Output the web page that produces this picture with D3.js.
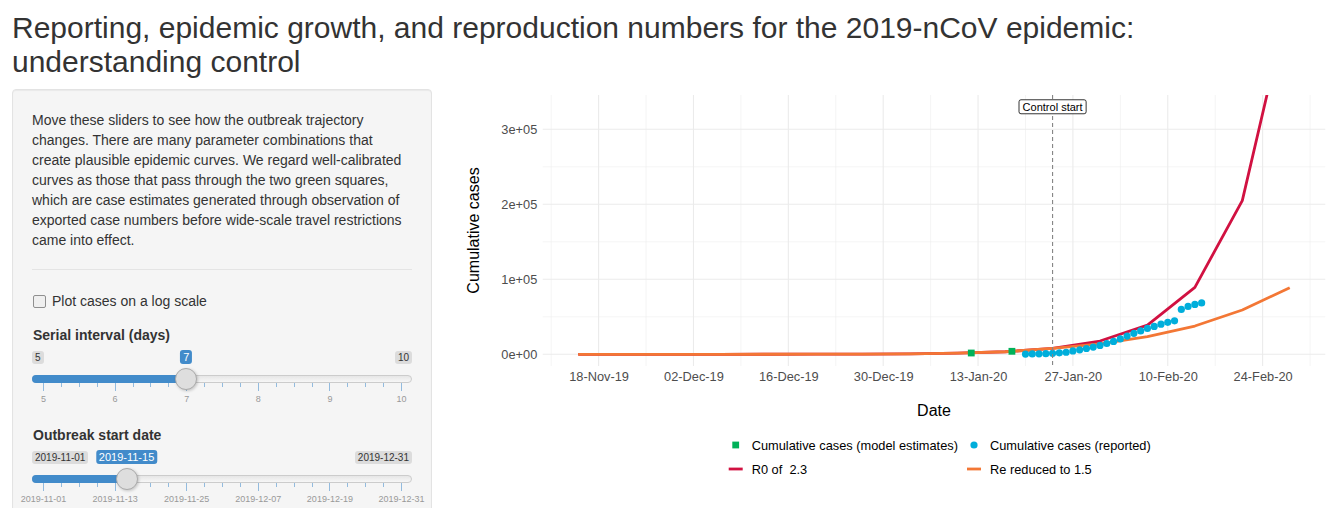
<!DOCTYPE html>
<html>
<head>
<meta charset="utf-8">
<title>2019-nCoV epidemic growth</title>
<script src="https://cdn.jsdelivr.net/npm/d3@7"></script>
<style>
  body { margin: 0; width: 1334px; height: 508px; overflow: hidden; position: relative; background: #fff;
         font-family: "Liberation Sans", Arial, Helvetica, sans-serif; color: #333; }
  h2 { position: absolute; left: 12px; top: 11px; margin: 0; font-size: 30px; font-weight: normal;
       line-height: 34px; white-space: nowrap; color: #333; }
  .well { position: absolute; left: 12px; top: 89px; width: 420px; height: 460px; box-sizing: border-box;
          background: #f5f5f5; border: 1px solid #e3e3e3; border-radius: 4px;
          box-shadow: inset 0 1px 1px rgba(0,0,0,.05); }
  .intro { position: absolute; left: 32px; top: 109.5px; font-size: 14px; line-height: 20px; white-space: nowrap; }
  .rule { position: absolute; left: 32px; top: 269px; width: 380px; border-top: 1px solid #e4e4e4; }
  .check { position: absolute; left: 32.5px; top: 294.5px; width: 11px; height: 11px; border: 1px solid #8f8f8f;
           border-radius: 2px; background: #efefef; }
  .check-label { position: absolute; left: 52px; top: 290.5px; font-size: 14px; line-height: 20px; white-space: nowrap; }
  .ctl-label { position: absolute; left: 33px; font-size: 14px; font-weight: bold; line-height: 20px; white-space: nowrap; }
  .slider { position: absolute; left: 32px; width: 380px; height: 60px; }
  .slider div { position: absolute; box-sizing: border-box; }
  .irs-min, .irs-max { top: 0.5px; font-size: 10px; line-height: 11px; padding: 1px 3px; border-radius: 3px;
                       background: rgba(0,0,0,.1); color: #333; white-space: nowrap; }
  .irs-single { top: 0; font-size: 11px; line-height: 12px; padding: 1px 3px; border-radius: 3px;
                background: #428bca; color: #fff; white-space: nowrap; transform: translateX(-50%); }
  .irs-line { top: 25px; left: 0; width: 380px; height: 8px; border: 1px solid #ccc; border-radius: 8px;
              background: linear-gradient(#dedede -50%, #fff 150%); }
  .irs-bar { top: 25px; left: 0; height: 8px; background: #428bca; border-radius: 8px 0 0 8px; }
  .irs-handle { top: 17.7px; width: 22px; height: 22px; border: 1px solid #ababab; border-radius: 22px;
                background: #dedede; box-shadow: 1px 1px 3px rgba(0,0,0,.2); }
  .irs-pol { top: 33px; width: 1px; background: #428bca; opacity: .55; }
  .irs-grid-text { top: 44px; font-size: 9px; line-height: 10px; color: #999; white-space: nowrap; transform: translateX(-50%); }
  #chart { position: absolute; left: 440px; top: 80px; }
</style>
</head>
<body>
<h2>Reporting, epidemic growth, and reproduction numbers for the 2019-nCoV epidemic:<br>understanding control</h2>
<div class="well"></div>
<div class="intro">Move these sliders to see how the outbreak trajectory<br>changes. There are many parameter combinations that<br>create plausible epidemic curves. We regard well-calibrated<br>curves as those that pass through the two green squares,<br>which are case estimates generated through observation of<br>exported case numbers before wide-scale travel restrictions<br>came into effect.</div>
<div class="rule"></div>
<div class="check"></div>
<div class="check-label">Plot cases on a log scale</div>
<div class="ctl-label" style="top:325px">Serial interval (days)</div>
<div class="slider" id="serial" style="top:350px"></div>
<div class="ctl-label" style="top:424.5px">Outbreak start date</div>
<div class="slider" id="start" style="top:450px"></div>
<svg id="chart" width="894" height="428"></svg>
<script>
// ---- data ----
const weekDates = ["2019-11-15", "2019-11-22", "2019-11-29", "2019-12-06", "2019-12-13", "2019-12-20",
                   "2019-12-27", "2020-01-03", "2020-01-10", "2020-01-17", "2020-01-24", "2020-01-31",
                   "2020-02-07", "2020-02-14", "2020-02-21", "2020-02-28"];
const r0Cases = [2, 5, 11, 25, 56, 128, 290, 660, 1500, 3400, 7800, 17700, 38900, 89300, 204800, 476000];
const reCases = [2, 5, 11, 25, 56, 128, 290, 660, 1500, 3400, 7800, 14000, 23500, 37700, 59000, 88800];

const reportedDates = ["2020-01-20", "2020-01-21", "2020-01-22", "2020-01-23", "2020-01-24", "2020-01-25",
                       "2020-01-26", "2020-01-27", "2020-01-28", "2020-01-29", "2020-01-30", "2020-01-31",
                       "2020-02-01", "2020-02-02", "2020-02-03", "2020-02-04", "2020-02-05", "2020-02-06",
                       "2020-02-07", "2020-02-08", "2020-02-09", "2020-02-10", "2020-02-11", "2020-02-12",
                       "2020-02-13", "2020-02-14", "2020-02-15"];
const reportedCases = [291, 440, 571, 830, 1287, 1975, 2744, 4515, 5974, 7711, 9692, 11791, 14380, 17205,
                       20438, 24324, 28018, 31161, 34546, 37198, 40171, 42638, 44653, 59804, 63851, 66492, 68500];

const estimateDates = ["2020-01-12", "2020-01-18"];
const estimateCases = [1723, 4000];

const controlStart = "2020-01-24";
const controlLabel = "Control start";
const controlLabelY = 330000;

const xBreaks = ["2019-11-18", "2019-12-02", "2019-12-16", "2019-12-30", "2020-01-13", "2020-01-27",
                 "2020-02-10", "2020-02-24"];
const yBreaks = [0, 100000, 200000, 300000];
const yLabels = ["0e+00", "1e+05", "2e+05", "3e+05"];
const yMinorBreaks = [50000, 150000, 250000];
const yLimits = [-15600, 345700];

const legendLabels = ["Cumulative cases (model estimates)", "Cumulative cases (reported)", "R0 of  2.3", "Re reduced to 1.5"];

const serialTicks = [5, 6, 7, 8, 9, 10];
const serialValue = 7;
const startTicks = ["2019-11-01", "2019-11-13", "2019-11-25", "2019-12-07", "2019-12-19", "2019-12-31"];
const startValue = "2019-11-15";

// ---- colours ----
const colR0 = "#d11141", colRe = "#f37735", colEst = "#00b159", colRep = "#00aedb";

const parseDate = d3.utcParse("%Y-%m-%d");
const fmtDate = d3.utcFormat("%Y-%m-%d");

// ---- sliders (sidebar) ----
function makeSlider(id, scale, ticks, value, fmt) {
    const box = d3.select(id);
    const W = 380, hw = 11;
    const pos = v => hw + (scale(v)) * (W - 2 * hw);   // scale returns 0..1

    box.append("div").attr("class", "irs-line");
    box.append("div").attr("class", "irs-bar").style("width", pos(value) + "px");

    // grid: major ticks with 3 small ones in between
    ticks.forEach((t, i) => {
        box.append("div").attr("class", "irs-pol")
            .style("left", pos(t) + "px").style("height", "8px");
        box.append("div").attr("class", "irs-grid-text")
            .style("left", (pos(t) + 0.5) + "px").text(fmt(t));
        if (i < ticks.length - 1) {
            const a = pos(t), b = pos(ticks[i + 1]);
            [1, 2, 3].forEach(k => {
                box.append("div").attr("class", "irs-pol")
                    .style("left", (a + (b - a) * k / 4) + "px").style("height", "4px");
            });
        }
    });

    box.append("div").attr("class", "irs-min").style("left", "0px").text(fmt(ticks[0]));
    box.append("div").attr("class", "irs-max").style("right", "0px").text(fmt(ticks[ticks.length - 1]));
    box.append("div").attr("class", "irs-handle").style("left", (pos(value) - hw) + "px");
    box.append("div").attr("class", "irs-single").style("left", pos(value) + "px").text(fmt(value));
}

const serialScale = d3.scaleLinear().domain([serialTicks[0], serialTicks[serialTicks.length - 1]]).range([0, 1]);
makeSlider("#serial", serialScale, serialTicks, serialValue, d => String(d));

const startTickDates = startTicks.map(parseDate);
const startScale = d3.scaleUtc().domain([startTickDates[0], startTickDates[startTickDates.length - 1]]).range([0, 1]);
makeSlider("#start", startScale, startTickDates, parseDate(startValue), fmtDate);

// ---- chart ----
const svg = d3.select("#chart");
const panel = { left: 102.7, right: 885.3, top: 15, bottom: 286 };

const firstDay = parseDate(weekDates[0]);
const lastDay = parseDate(weekDates[weekDates.length - 1]);
const pad = (lastDay - firstDay) * 0.05;   // ggplot default expansion
const x = d3.scaleUtc()
    .domain([new Date(+firstDay - pad), new Date(+lastDay + pad)])
    .range([panel.left, panel.right]);
const y = d3.scaleLinear().domain(yLimits).range([panel.bottom, panel.top]);

svg.append("defs").append("clipPath").attr("id", "clip")
    .append("rect")
    .attr("x", panel.left).attr("y", panel.top)
    .attr("width", panel.right - panel.left).attr("height", panel.bottom - panel.top);

// grid lines
const xBreakDates = xBreaks.map(parseDate);
const xMinor = xBreakDates.map(d => d3.utcDay.offset(d, -7))
    .concat([d3.utcDay.offset(xBreakDates[xBreakDates.length - 1], 7)])
    .filter(d => d >= x.domain()[0] && d <= x.domain()[1]);

const grid = svg.append("g");
grid.selectAll(".xminor").data(xMinor).join("line")
    .attr("x1", d => x(d)).attr("x2", d => x(d))
    .attr("y1", panel.top).attr("y2", panel.bottom)
    .attr("stroke", "#ebebeb").attr("stroke-width", 0.55);
grid.selectAll(".yminor").data(yMinorBreaks).join("line")
    .attr("x1", panel.left).attr("x2", panel.right)
    .attr("y1", d => y(d)).attr("y2", d => y(d))
    .attr("stroke", "#ebebeb").attr("stroke-width", 0.55);
grid.selectAll(".xmajor").data(xBreakDates).join("line")
    .attr("x1", d => x(d)).attr("x2", d => x(d))
    .attr("y1", panel.top).attr("y2", panel.bottom)
    .attr("stroke", "#ebebeb").attr("stroke-width", 1.1);
grid.selectAll(".ymajor").data(yBreaks).join("line")
    .attr("x1", panel.left).attr("x2", panel.right)
    .attr("y1", d => y(d)).attr("y2", d => y(d))
    .attr("stroke", "#ebebeb").attr("stroke-width", 1.1);

// axes (labels only, like theme_minimal)
const xAxis = svg.append("g")
    .attr("transform", `translate(0,${panel.bottom})`)
    .call(d3.axisBottom(x).tickValues(xBreakDates).tickFormat(d3.utcFormat("%d-%b-%y")).tickSize(0).tickPadding(5.9));
const yAxis = svg.append("g")
    .attr("transform", `translate(${panel.left},0)`)
    .call(d3.axisLeft(y).tickValues(yBreaks).tickFormat((d, i) => yLabels[i]).tickSize(0).tickPadding(5.4));
[xAxis, yAxis].forEach(g => {
    g.select(".domain").remove();
    g.selectAll("text")
        .attr("fill", "#4d4d4d")
        .style("font-family", '"Liberation Sans", Arial, sans-serif')
        .style("font-size", "12.8px");
});
yAxis.selectAll("text").attr("dy", "0.36em");

svg.append("text")
    .attr("x", (panel.left + panel.right) / 2).attr("y", 336)
    .attr("text-anchor", "middle")
    .style("font-family", '"Liberation Sans", Arial, sans-serif').style("font-size", "16px")
    .attr("fill", "#000").text("Date");
svg.append("text")
    .attr("transform", `translate(39.3,${(panel.top + panel.bottom) / 2}) rotate(-90)`)
    .attr("text-anchor", "middle")
    .style("font-family", '"Liberation Sans", Arial, sans-serif').style("font-size", "16px")
    .attr("fill", "#000").text("Cumulative cases");

// model lines
const plot = svg.append("g").attr("clip-path", "url(#clip)");
const line = d3.line().x(d => x(d[0])).y(d => y(d[1]));
const weekParsed = weekDates.map(parseDate);

plot.append("path")
    .datum(weekParsed.map((d, i) => [d, r0Cases[i]]))
    .attr("d", line)
    .attr("fill", "none").attr("stroke", colR0).attr("stroke-width", 2.8)
    .attr("stroke-linejoin", "round");
plot.append("path")
    .datum(weekParsed.map((d, i) => [d, reCases[i]]))
    .attr("d", line)
    .attr("fill", "none").attr("stroke", colRe).attr("stroke-width", 2.8)
    .attr("stroke-linejoin", "round");

// control start
const xc = x(parseDate(controlStart));
svg.append("line")
    .attr("x1", xc).attr("x2", xc).attr("y1", panel.top).attr("y2", panel.bottom)
    .attr("stroke", "#858585").attr("stroke-width", 1.1).attr("stroke-dasharray", "4,3");

// points
plot.selectAll(".est").data(estimateDates).join("rect")
    .attr("x", d => x(parseDate(d)) - 3.4)
    .attr("y", (d, i) => y(estimateCases[i]) - 3.4)
    .attr("width", 6.8).attr("height", 6.8)
    .attr("fill", colEst);
plot.selectAll(".rep").data(reportedDates).join("circle")
    .attr("cx", d => x(parseDate(d)))
    .attr("cy", (d, i) => y(reportedCases[i]))
    .attr("r", 3.6)
    .attr("fill", colRep);

// control label
const lab = svg.append("g");
const labText = lab.append("text")
    .attr("x", xc).attr("y", y(controlLabelY) + 4)
    .attr("text-anchor", "middle")
    .style("font-family", '"Liberation Sans", Arial, sans-serif').style("font-size", "11px")
    .attr("fill", "#000").text(controlLabel);
const tw = labText.node().getComputedTextLength();
lab.insert("rect", "text")
    .attr("x", xc - tw / 2 - 3.6).attr("y", y(controlLabelY) - 7)
    .attr("width", tw + 7.2).attr("height", 14)
    .attr("rx", 2).attr("fill", "#fff").attr("stroke", "#000").attr("stroke-width", 0.8);

// legend
const legend = svg.append("g");
const legendPos = [[295.7, 365], [534, 365], [295.7, 389], [534, 389]];
legendLabels.forEach((lbl, i) => {
    const [lx, ly] = legendPos[i];
    if (i === 0) {
        legend.append("rect").attr("x", lx - 3.4).attr("y", ly - 3.4).attr("width", 6.8).attr("height", 6.8).attr("fill", colEst);
    } else if (i === 1) {
        legend.append("circle").attr("cx", lx).attr("cy", ly).attr("r", 3.6).attr("fill", colRep);
    } else {
        legend.append("line").attr("x1", lx - 7).attr("x2", lx + 7).attr("y1", ly).attr("y2", ly)
            .attr("stroke", i === 2 ? colR0 : colRe).attr("stroke-width", 2.8);
    }
    legend.append("text")
        .attr("x", lx + 16).attr("y", ly + 4.6)
        .style("font-family", '"Liberation Sans", Arial, sans-serif').style("font-size", "12.8px")
        .style("white-space", "pre")
        .attr("fill", "#000").text(lbl);
});
</script>
</body>
</html>
